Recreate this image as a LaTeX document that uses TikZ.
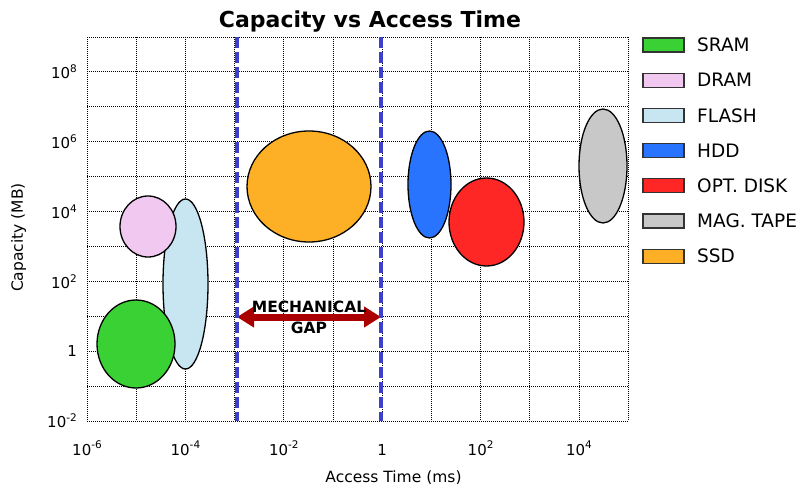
\documentclass[tikz,border=0pt]{standalone}
\usepackage{fontspec}
\setmainfont{DejaVu Sans}
\usetikzlibrary{arrows.meta}

\definecolor{sramcol}{RGB}{58,209,52}
\definecolor{dramcol}{RGB}{240,200,240}
\definecolor{flashcol}{RGB}{200,230,242}
\definecolor{hddcol}{RGB}{40,116,255}
\definecolor{optcol}{RGB}{255,38,38}
\definecolor{tapecol}{RGB}{200,200,200}
\definecolor{ssdcol}{RGB}{253,175,37}
\definecolor{gapblue}{RGB}{60,64,204}
\definecolor{gapred}{RGB}{170,0,0}

\newcommand{\tickexp}[1]{\raisebox{0.42em}{\fontsize{10.5}{12}\selectfont #1}}

\begin{document}
\begin{tikzpicture}
[x=1pt,y=-1pt,
gridline/.style={black,line width=0.8pt,dash pattern=on 1pt off 1pt},
blob/.style={draw=black,line width=1.3pt},
ticklab/.style={inner sep=0pt,font=\fontsize{15}{18}\selectfont},
legbox/.style={draw=black!80,line width=1.3pt},
legtext/.style={anchor=west,inner sep=0pt,font=\fontsize{18.5}{22}\selectfont},
gapline/.style={draw=gapblue,line width=3.2pt,dash pattern=on 11pt off 4pt},
gaparrow/.style={gapred,line width=7pt,{Triangle[length=17pt,width=20pt]}-{Triangle[length=17pt,width=20pt]}}]
\useasboundingbox (0,0) rectangle (801,487);
% grid and frame
\foreach \i in {0,...,11}
\draw[gridline] ({87+\i*49.2},37) -- ({87+\i*49.2},421);
\foreach \j in {0,...,11}
\draw[gridline] (87,{37+\j*34.9}) -- (628,{37+\j*34.9});
% tick labels
\foreach \i/\lab in {0/10\tickexp{-6},2/10\tickexp{-4},4/10\tickexp{-2},6/1,8/10\tickexp{2},10/10\tickexp{4}}
\node[ticklab,anchor=base] (xt\i) at ({87+\i*49.2},455) {\lab};
\foreach \j/\lab in {0/10\tickexp{-2},2/1,4/10\tickexp{2},6/10\tickexp{4},8/10\tickexp{6},10/10\tickexp{8}}
\node[ticklab,anchor=east] (yt\j) at (77,{421-\j*34.9}) {\lab};
\node[anchor=base,inner sep=0pt,font=\bfseries\fontsize{22}{26}\selectfont] (title) at (370,28) {Capacity vs Access Time};
\node[anchor=base,inner sep=0pt,font=\fontsize{15.5}{18}\selectfont] (xlab) at (393.5,482) {Access Time (ms)};
\node[anchor=base,rotate=90,inner sep=0pt,font=\fontsize{15.5}{18}\selectfont] (ylab) at (23,237.5) {Capacity (MB)};
% memories
\filldraw[blob,fill=flashcol] (185.5,284) ellipse [x radius=22.5,y radius=85];
\filldraw[blob,fill=sramcol] (136,344) ellipse [x radius=39,y radius=44];
\filldraw[blob,fill=dramcol] (148,226.5) ellipse [x radius=28,y radius=30.5];
\filldraw[blob,fill=ssdcol] (309,186.5) ellipse [x radius=62,y radius=55.5];
\filldraw[blob,fill=hddcol] (429.5,184.5) ellipse [x radius=21.5,y radius=53.5];
\filldraw[blob,fill=optcol] (486.5,222) ellipse [x radius=37.5,y radius=44];
\filldraw[blob,fill=tapecol] (603,166) ellipse [x radius=24,y radius=57];
% mechanical gap
\coordinate (gapL) at (237,317);
\coordinate (gapR) at (381,317);
\draw[gaparrow] (gapL) -- (gapR);
\draw[gapline] (237,37) -- (237,421);
\draw[gapline] (381,37) -- (381,421);
\node[align=center,inner sep=0pt,font=\bfseries\fontsize{15.5}{20.5}\selectfont] (gap) at (309,317.5) {MECHANICAL\\GAP};
% legend
\foreach \k/\col/\lab in {0/sramcol/SRAM,1/dramcol/DRAM,2/flashcol/FLASH,3/hddcol/HDD,4/optcol/OPT. DISK,5/tapecol/MAG. TAPE,6/ssdcol/SSD}
{
\filldraw[legbox,fill=\col] (643,{38+\k*35.2}) rectangle (684,{52+\k*35.2});
\node[legtext] (leg\k) at (697,{45+\k*35.2}) {\lab};
}
\end{tikzpicture}
\end{document}
